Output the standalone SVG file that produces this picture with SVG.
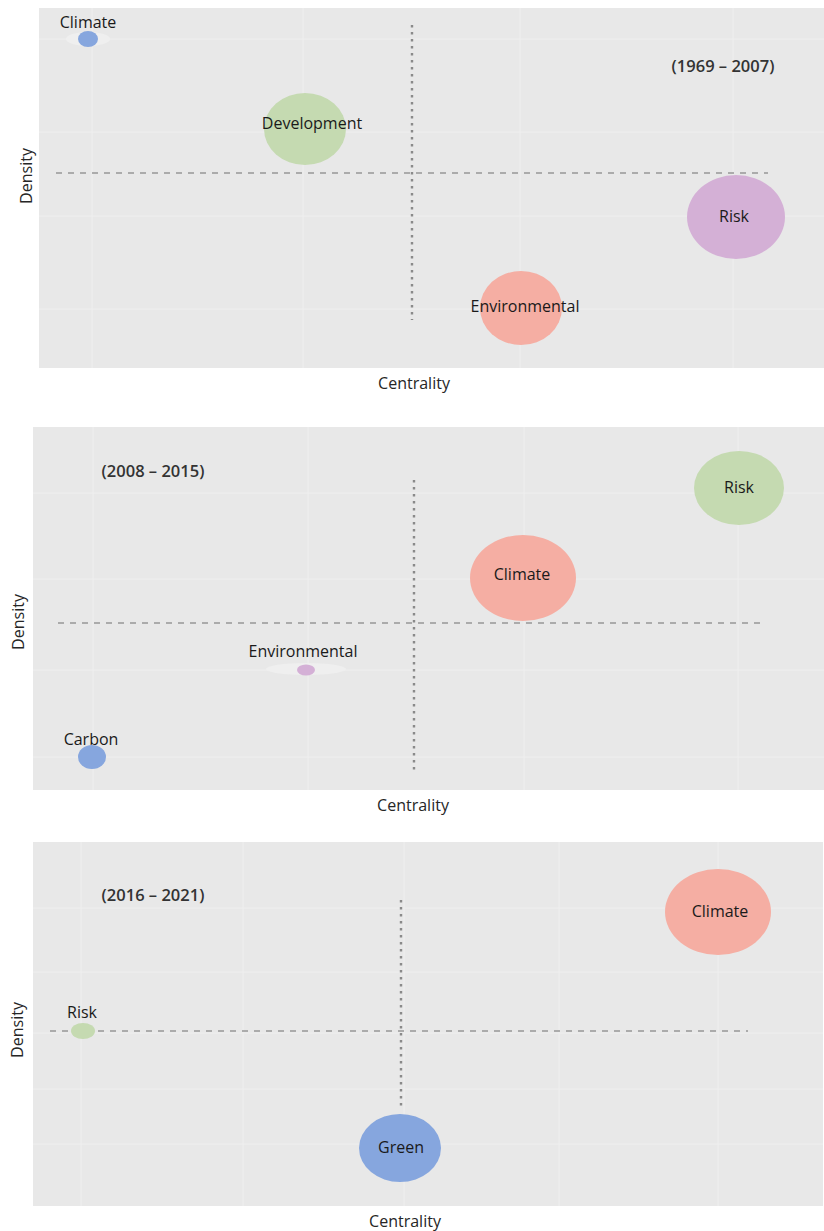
<svg xmlns="http://www.w3.org/2000/svg" width="824" height="1231" viewBox="0 0 824 1231">
<style>
text{font-family:"Open Sans","Noto Sans",sans-serif;fill:#1a1a1a;font-size:16px}
.c{text-anchor:middle}
.yr{font-size:16.5px;font-weight:600;fill:#333}
.ax{fill:#262626}
.bg{fill:#e8e8e8}
.grid line{stroke:#efefef;stroke-width:1}
.hd{stroke:#979797;stroke-width:1.6;stroke-dasharray:6 6;fill:none}
.vd{stroke:#8a8a8a;stroke-width:2.4;stroke-dasharray:2.5 4.5;fill:none}
.halo{fill:#efefef}
.blue{fill:#86a6de}
.green{fill:#c5dab1}
.red{fill:#f5aea3}
.purple{fill:#d4b0d6}
</style>
<rect width="824" height="1231" fill="#ffffff"/>

<!-- Panel 1 -->
<g id="panel1">
<rect class="bg" x="39" y="8" width="785" height="360"/>
<g class="grid">
<line x1="92" y1="8" x2="92" y2="368"/><line x1="303" y1="8" x2="303" y2="368"/><line x1="520" y1="8" x2="520" y2="368"/><line x1="733" y1="8" x2="733" y2="368"/>
<line x1="39" y1="39" x2="824" y2="39"/><line x1="39" y1="132" x2="824" y2="132"/><line x1="39" y1="216" x2="824" y2="216"/><line x1="39" y1="309" x2="824" y2="309"/>
</g>
<text class="c yr" x="723" y="72">(1969 – 2007)</text>
<text class="c ax" x="414" y="389">Centrality</text>
<text class="c ax" transform="translate(32,176) rotate(-90)">Density</text>
</g>
<g id="connectors1">
<line class="hd" x1="56" y1="173" x2="768" y2="173"/>
<line class="vd" x1="412" y1="25" x2="412" y2="320"/>
</g>
<g id="p1-climate"><ellipse class="halo" cx="88" cy="39" rx="22" ry="7"/><ellipse class="blue" cx="88" cy="39" rx="10" ry="8"/><text class="c" x="88" y="28">Climate</text></g>
<g id="p1-development"><ellipse class="green" cx="305" cy="129" rx="41" ry="36"/><text class="c" x="312" y="129">Development</text></g>
<g id="p1-risk"><ellipse class="purple" cx="736" cy="217" rx="49" ry="42"/><text class="c" x="734" y="222">Risk</text></g>
<g id="p1-environmental"><ellipse class="red" cx="521" cy="308" rx="41" ry="37"/><text class="c" x="525" y="312">Environmental</text></g>

<!-- Panel 2 -->
<g id="panel2">
<rect class="bg" x="33" y="427" width="791" height="363"/>
<g class="grid">
<line x1="93" y1="427" x2="93" y2="790"/><line x1="308" y1="427" x2="308" y2="790"/><line x1="524" y1="427" x2="524" y2="790"/><line x1="738" y1="427" x2="738" y2="790"/>
<line x1="33" y1="493" x2="824" y2="493"/><line x1="33" y1="579" x2="824" y2="579"/><line x1="33" y1="670" x2="824" y2="670"/><line x1="33" y1="757" x2="824" y2="757"/>
</g>
<text class="c yr" x="153" y="477">(2008 – 2015)</text>
<text class="c ax" x="413" y="811">Centrality</text>
<text class="c ax" transform="translate(24,622) rotate(-90)">Density</text>
</g>
<g id="connectors2">
<line class="hd" x1="58" y1="623" x2="765" y2="623"/>
<line class="vd" x1="414" y1="480" x2="414" y2="770"/>
</g>
<g id="p2-risk"><ellipse class="green" cx="739" cy="488" rx="45" ry="37"/><text class="c" x="739" y="493">Risk</text></g>
<g id="p2-climate"><ellipse class="red" cx="523" cy="578" rx="53" ry="43"/><text class="c" x="522" y="580">Climate</text></g>
<g id="p2-environmental"><ellipse class="halo" cx="306" cy="669" rx="40" ry="6"/><ellipse class="purple" cx="306" cy="670" rx="9" ry="5.5"/><text class="c" x="303" y="657">Environmental</text></g>
<g id="p2-carbon"><ellipse class="blue" cx="92" cy="757" rx="14" ry="12"/><text class="c" x="91" y="745">Carbon</text></g>

<!-- Panel 3 -->
<g id="panel3">
<rect class="bg" x="33" y="842" width="790" height="364"/>
<g class="grid">
<line x1="81" y1="842" x2="81" y2="1206"/><line x1="243" y1="842" x2="243" y2="1206"/><line x1="404" y1="842" x2="404" y2="1206"/><line x1="559" y1="842" x2="559" y2="1206"/><line x1="718" y1="842" x2="718" y2="1206"/>
<line x1="33" y1="908" x2="823" y2="908"/><line x1="33" y1="972" x2="823" y2="972"/><line x1="33" y1="1033" x2="823" y2="1033"/><line x1="33" y1="1089" x2="823" y2="1089"/><line x1="33" y1="1144" x2="823" y2="1144"/>
</g>
<text class="c yr" x="153" y="901">(2016 – 2021)</text>
<text class="c ax" x="405" y="1227">Centrality</text>
<text class="c ax" transform="translate(23,1030) rotate(-90)">Density</text>
</g>
<g id="connectors3">
<line class="hd" x1="50" y1="1031" x2="748" y2="1031"/>
<line class="vd" x1="401" y1="900" x2="401" y2="1108"/>
</g>
<g id="p3-risk"><ellipse class="green" cx="83" cy="1031" rx="12" ry="8"/><text class="c" x="82" y="1018">Risk</text></g>
<g id="p3-green"><ellipse class="blue" cx="400" cy="1148" rx="41" ry="34"/><text class="c" x="401" y="1153">Green</text></g>
<g id="p3-climate"><ellipse class="red" cx="718" cy="912" rx="53" ry="43"/><text class="c" x="720" y="917">Climate</text></g>
</svg>
